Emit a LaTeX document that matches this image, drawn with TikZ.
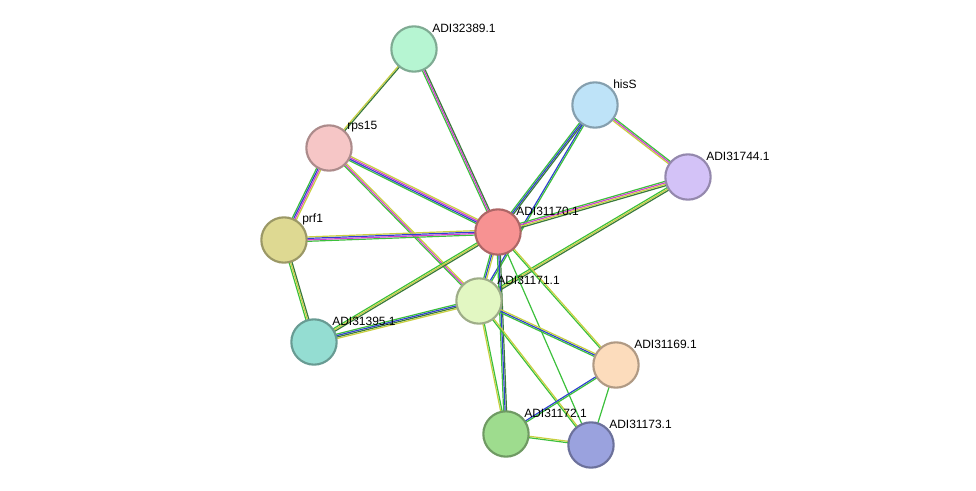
\documentclass[tikz,border=0pt]{standalone}
\usepackage{fontspec}
\setmainfont{Liberation Sans}
\usetikzlibrary{calc,backgrounds}
\definecolor{gr}{HTML}{3CC03C}
\definecolor{dg}{HTML}{3A7A3A}
\definecolor{yl}{HTML}{C8D040}
\definecolor{mg}{HTML}{D040D0}
\definecolor{bl}{HTML}{3040D0}
\definecolor{c389}{HTML}{B6F5D2}
\definecolor{chis}{HTML}{BEE3F8}
\definecolor{c744}{HTML}{D3C2F7}
\definecolor{crps}{HTML}{F6C6C6}
\definecolor{cprf}{HTML}{DED992}
\definecolor{c170}{HTML}{F79292}
\definecolor{c171}{HTML}{E2F7C2}
\definecolor{c395}{HTML}{94DDD2}
\definecolor{c169}{HTML}{FCDCBC}
\definecolor{c172}{HTML}{9EDC8E}
\definecolor{c173}{HTML}{9AA2DE}
\tikzset{
  prot/.style={circle, draw=#1!70!black, fill=#1, line width=1.6pt, minimum size=34pt, inner sep=0pt},
  lbl/.style={anchor=west, font=\fontsize{9pt}{10pt}\selectfont, inner sep=0pt},
}
% one strand per colour, side by side
\newcommand{\lnk}[4]{%
  \foreach \c [count=\i] in {#4} {
    \pgfmathsetmacro{\o}{(\i-(#3+1)/2)*1.1}
    \draw[\c, line width=0.9pt] ($(#1)!\o pt!90:(#2)$) -- ($(#2)!\o pt!-90:(#1)$);
  }}
\begin{document}
\begin{tikzpicture}[x=0.75pt, y=-0.75pt]
\useasboundingbox (0,0) rectangle (976,491);
% proteins
\node[prot=c389] (a389) at (414,49) {};
\node[prot=chis] (hisS) at (595,105) {};
\node[prot=c744] (a744) at (688,177) {};
\node[prot=crps] (rps15) at (329,148) {};
\node[prot=cprf] (prf1) at (284,240) {};
\node[prot=c170] (a170) at (498,232) {};
\node[prot=c171] (a171) at (479,301) {};
\node[prot=c395] (a395) at (314,342) {};
\node[prot=c169] (a169) at (616,365) {};
\node[prot=c172] (a172) at (506,434) {};
\node[prot=c173] (a173) at (591,445) {};
% names
\node[lbl] at (432,28) {ADI32389.1};
\node[lbl] at (613,84) {hisS};
\node[lbl] at (706,156) {ADI31744.1};
\node[lbl] at (347,127) {rps15};
\node[lbl] at (302,219) {prf1};
\node[lbl] at (516,211) {ADI31170.1};
\node[lbl] at (497,280) {ADI31171.1};
\node[lbl] at (332,321) {ADI31395.1};
\node[lbl] at (634,344) {ADI31169.1};
\node[lbl] at (524,413) {ADI31172.1};
\node[lbl] at (609,424) {ADI31173.1};
% links
\begin{scope}[on background layer]
\lnk{a389}{rps15}{2}{yl,dg}
\lnk{a389}{a170}{3}{gr,mg,dg}
\lnk{hisS}{a744}{3}{yl,mg,gr}
\lnk{hisS}{a170}{3}{gr,bl,dg}
\lnk{hisS}{a171}{2}{bl,gr}
\lnk{a744}{a170}{4}{gr,mg,yl,dg}
\lnk{a744}{a171}{3}{gr,yl,dg}
\lnk{rps15}{prf1}{4}{gr,bl,mg,yl}
\lnk{rps15}{a170}{4}{gr,bl,mg,yl}
\lnk{rps15}{a171}{3}{gr,mg,yl}
\lnk{prf1}{a170}{4}{gr,mg,bl,yl}
\lnk{prf1}{a395}{3}{gr,yl,dg}
\lnk{a170}{a171}{3}{gr,bl,yl}
\lnk{a170}{a395}{3}{gr,yl,dg}
\lnk{a171}{a395}{4}{gr,bl,dg,yl}
\lnk{a170}{a169}{2}{gr,yl}
\lnk{a170}{a172}{3}{gr,bl,dg}
\lnk{a170}{a173}{1}{gr}
\lnk{a171}{a169}{3}{gr,bl,yl}
\lnk{a171}{a172}{2}{yl,gr}
\lnk{a171}{a173}{2}{gr,yl}
\lnk{a169}{a172}{2}{bl,gr}
\lnk{a169}{a173}{1}{gr}
\lnk{a172}{a173}{2}{gr,yl}
\end{scope}
\end{tikzpicture}
\end{document}
